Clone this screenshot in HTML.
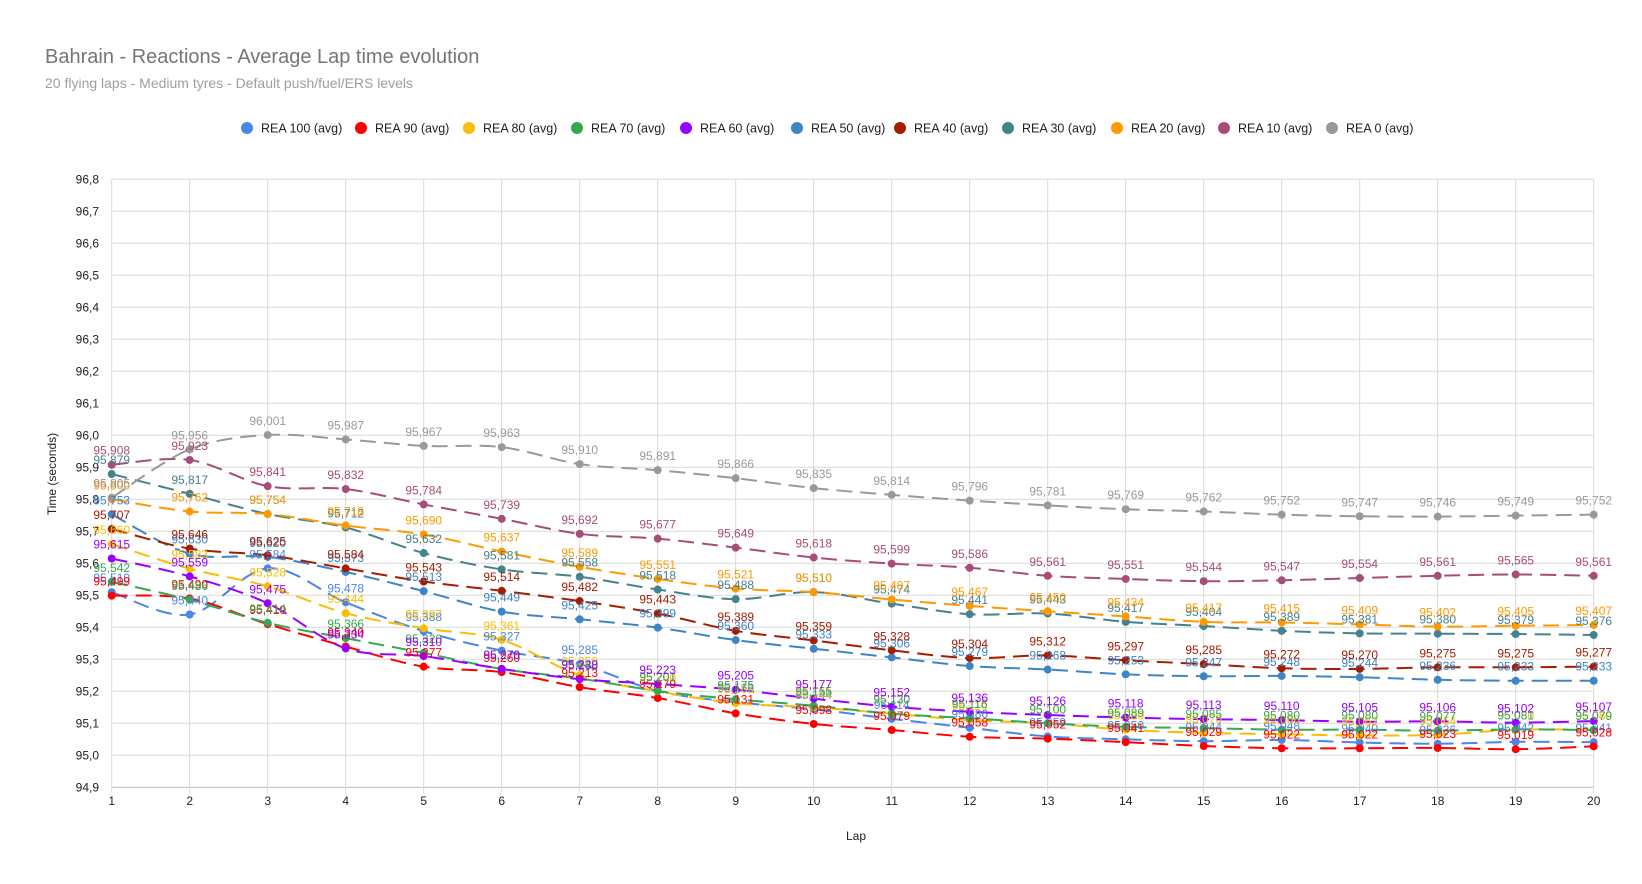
<!DOCTYPE html>
<html><head><meta charset="utf-8"><style>
html,body{margin:0;padding:0;background:#fff;}
svg{display:block;font-family:"Liberation Sans",Arial,sans-serif;}
</style></head><body>
<svg id="c" width="1642" height="884" xmlns="http://www.w3.org/2000/svg">
<rect width="1642" height="884" fill="#fff"/>
<text x="45" y="63" font-size="20" fill="#757575">Bahrain - Reactions - Average Lap time evolution</text>
<text x="45" y="88" font-size="14" fill="#9e9e9e">20 flying laps - Medium tyres - Default push/fuel/ERS levels</text>
<text x="856" y="840" font-size="12" fill="#222" text-anchor="middle">Lap</text>
<text transform="translate(56,474) rotate(-90)" font-size="12" fill="#222" text-anchor="middle">Time (seconds)</text>
<g id="g"></g>
</svg>
<script>
var X0=111.7,DX=78.0,Y0=179.3,DY=32.0;
function px(i){return X0+i*DX;}
function py(v){return Y0+(96.8-v)*10*DY;}
var g=document.getElementById('g'),h='';
for(var k=0;k<=19;k++){var v=96.8-k*0.1;var y=Y0+k*DY;
 h+='<line x1="'+(X0)+'" x2="'+px(19)+'" y1="'+y+'" y2="'+y+'" stroke="'+(k==19?'#bbb':'#d9d9d9')+'" stroke-width="1"/>';
 h+='<text x="99" y="'+(y+4)+'" font-size="12" fill="#222" text-anchor="end">'+v.toFixed(1).replace('.',',')+'</text>';}
for(var i=0;i<20;i++){h+='<line x1="'+px(i)+'" x2="'+px(i)+'" y1="'+Y0+'" y2="'+(Y0+19*DY+6)+'" stroke="#d9d9d9"/>';
 h+='<text x="'+px(i)+'" y="805" font-size="12" fill="#222" text-anchor="middle">'+(i+1)+'</text>';}
var S=[
['REA 100 (avg)','#4a86e8',[95.51,95.440,95.584,95.478,95.388,95.327,95.285,95.201,95.166,95.144,95.114,95.086,95.059,95.050,95.044,95.048,95.040,95.036,95.042,95.041]],
['REA 90 (avg)','#ff0000',[95.499,95.49,95.41,95.34,95.277,95.260,95.213,95.179,95.131,95.098,95.079,95.058,95.052,95.041,95.029,95.022,95.022,95.023,95.019,95.028]],
['REA 80 (avg)','#fbbc04',[95.66,95.583,95.528,95.444,95.397,95.361,95.25,95.20,95.163,95.15,95.13,95.11,95.10,95.08,95.07,95.066,95.062,95.064,95.08,95.08]],
['REA 70 (avg)','#34a853',[95.542,95.486,95.414,95.366,95.32,95.27,95.24,95.201,95.175,95.155,95.13,95.116,95.100,95.089,95.085,95.080,95.080,95.077,95.081,95.079]],
['REA 60 (avg)','#9900ff',[95.615,95.559,95.475,95.334,95.310,95.270,95.238,95.223,95.205,95.177,95.152,95.136,95.126,95.118,95.113,95.110,95.105,95.106,95.102,95.107]],
['REA 50 (avg)','#3d85c6',[95.753,95.63,95.62,95.573,95.513,95.449,95.425,95.399,95.360,95.333,95.306,95.279,95.268,95.253,95.247,95.248,95.244,95.236,95.233,95.233]],
['REA 40 (avg)','#a61c00',[95.707,95.646,95.625,95.584,95.543,95.514,95.482,95.443,95.389,95.359,95.328,95.304,95.312,95.297,95.285,95.272,95.270,95.275,95.275,95.277]],
['REA 30 (avg)','#45818e',[95.879,95.817,95.754,95.712,95.632,95.581,95.558,95.518,95.488,95.510,95.474,95.441,95.443,95.417,95.404,95.389,95.381,95.380,95.379,95.376]],
['REA 20 (avg)','#ff9900',[95.80,95.762,95.754,95.718,95.690,95.637,95.589,95.551,95.521,95.510,95.487,95.467,95.450,95.434,95.417,95.415,95.409,95.402,95.405,95.407]],
['REA 10 (avg)','#a64d79',[95.908,95.923,95.841,95.832,95.784,95.739,95.692,95.677,95.649,95.618,95.599,95.586,95.561,95.551,95.544,95.547,95.554,95.561,95.565,95.561]],
['REA 0 (avg)','#999999',[95.805,95.956,96.001,95.987,95.967,95.963,95.910,95.891,95.866,95.835,95.814,95.796,95.781,95.769,95.762,95.752,95.747,95.746,95.749,95.752]]];
var LX=[247,361,469,577,686,797,900,1008,1117,1224,1332];
var lines='',labels='';
S.forEach(function(s,j){
 h+='<circle cx="'+LX[j]+'" cy="128" r="6" fill="'+s[1]+'"/><text x="'+(LX[j]+14)+'" y="132.5" font-size="12.5" fill="#222">'+s[0]+'</text>';
 var d=s[2],P=d.map(function(v,i){return [px(i),py(v)];});
 var p='M'+P[0][0]+','+P[0][1];
 for(var i=0;i<19;i++){var a=P[Math.max(i-1,0)],b=P[i],c=P[i+1],e=P[Math.min(i+2,19)];
  var c1=[b[0]+(c[0]-a[0])/6,b[1]+(c[1]-a[1])/6],c2=[c[0]-(e[0]-b[0])/6,c[1]-(e[1]-b[1])/6];
  p+=' C'+c1[0]+','+c1[1]+' '+c2[0]+','+c2[1]+' '+c[0]+','+c[1];}
 lines+='<path d="'+p+'" fill="none" stroke="'+s[1]+'" stroke-width="2" stroke-dasharray="16,8"/>';
 P.forEach(function(q,i){lines+='<circle cx="'+q[0]+'" cy="'+q[1]+'" r="4" fill="'+s[1]+'"/>';
  labels+='<text x="'+q[0]+'" y="'+(q[1]-10)+'" font-size="12" fill="'+s[1]+'" text-anchor="middle">'+d[i].toFixed(3).replace('.',',')+'</text>';});
});
g.innerHTML=h+lines+labels;
</script>
</body></html>
